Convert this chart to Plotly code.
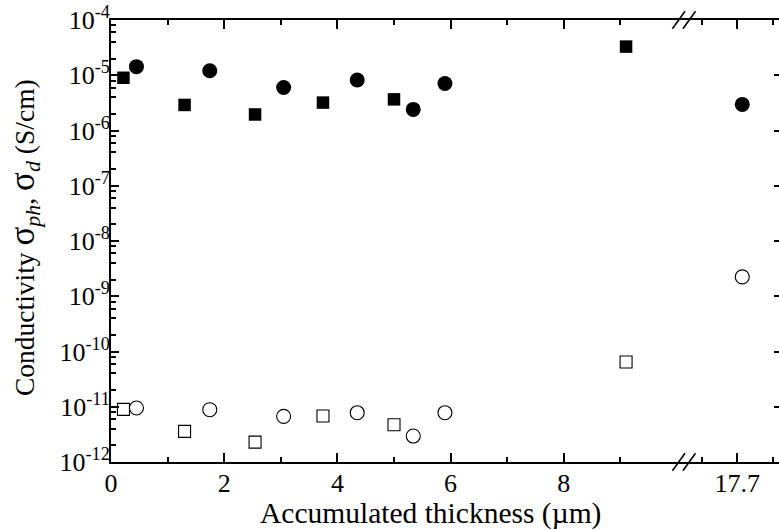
import plotly.graph_objects as go

# ---- data ----
ph_sq_x = [0.22, 1.30, 2.545, 3.745, 5.00, 9.10]
ph_sq_y = [9.0e-6, 2.9e-6, 1.95e-6, 3.2e-6, 3.66e-6, 3.3e-5]

ph_ci_x = [0.45, 1.745, 3.05, 4.35, 5.34, 5.90]
ph_ci_y = [1.43e-5, 1.21e-5, 6.0e-6, 8.2e-6, 2.41e-6, 7.1e-6]
ph_ci_x_far = [17.77]
ph_ci_y_far = [2.97e-6]

d_sq_x = [0.22, 1.30, 2.545, 3.745, 5.00, 9.10]
d_sq_y = [8.97e-12, 3.58e-12, 2.29e-12, 6.8e-12, 4.73e-12, 6.45e-11]

d_ci_x = [0.45, 1.745, 3.05, 4.35, 5.34, 5.90]
d_ci_y = [9.5e-12, 8.85e-12, 6.7e-12, 7.8e-12, 2.95e-12, 7.8e-12]
d_ci_x_far = [17.77]
d_ci_y_far = [2.24e-9]

x_major = [0, 2, 4, 6, 8]
x_minor = [1, 3, 5, 7, 9]
x2_major = [17.7]
x2_labels = ["17.7"]
x2_minor = [17.2, 18.2]
y_exps = [-12, -11, -10, -9, -8, -7, -6, -5, -4]
y_major = [10.0 ** e for e in y_exps]
y_labels = ["10<sup>%d</sup>" % e for e in y_exps]
y_minor = [k * 10.0 ** e for e in range(-12, -4) for k in (2, 4, 6, 8)]

FONT = "'Liberation Serif', 'Times New Roman', Times, 'DejaVu Serif', serif"
W, H = 779, 530
L, R, T, B = 111, 0, 20, 68
PW, PH = W - L - R, H - T - B
split = (683 - L) / PW

fig = go.Figure()

def add(x, y, symbol, size, xa="x", filled=True):
    fig.add_trace(go.Scatter(
        x=x, y=y, mode="markers", xaxis=xa, yaxis="y",
        marker=dict(symbol=symbol, size=size,
                    color="black" if filled else "white",
                    line=dict(color="black", width=0 if filled else 1.1)),
        showlegend=False, hoverinfo="x+y"))

add(ph_sq_x, ph_sq_y, "square", 12.5)
add(ph_ci_x, ph_ci_y, "circle", 15)
add(ph_ci_x_far, ph_ci_y_far, "circle", 15, xa="x2")
add(d_sq_x, d_sq_y, "square", 12, filled=False)
add(d_ci_x, d_ci_y, "circle", 14, filled=False)
add(d_ci_x_far, d_ci_y_far, "circle", 14, xa="x2", filled=False)

axis_common = dict(showline=True, linewidth=2, linecolor="black", showgrid=False,
                   zeroline=False, ticks="inside", tickwidth=1.5, tickcolor="black",
                   automargin=False,
                   tickfont=dict(family=FONT, size=26, color="black"))

fig.update_layout(
    width=W, height=H,
    margin=dict(l=L, r=R, t=T, b=B, autoexpand=False),
    plot_bgcolor="white", paper_bgcolor="white",
    font=dict(family=FONT, size=26, color="black"),
    showlegend=False,
    xaxis=dict(domain=[0, split], range=[0, (683 - L) / 56.6], anchor="y",
               tickmode="array", tickvals=x_major, ticklen=9, mirror="ticks",
               ticklabelstandoff=-3,
               minor=dict(tickmode="array", tickvals=x_minor, ticks="inside", ticklen=5,
                          tickwidth=1.5, tickcolor="black", showgrid=False),
               **axis_common),
    xaxis2=dict(domain=[split, 1], range=[17.7 - (737.3 - 683) / 71, 17.7 + (W - 737.3) / 71],
                anchor="y", tickmode="array", tickvals=x2_major, ticktext=x2_labels,
                ticklen=9, mirror="ticks", ticklabelstandoff=-3,
                minor=dict(tickmode="array", tickvals=x2_minor, ticks="inside", ticklen=5,
                           tickwidth=1.5, tickcolor="black", showgrid=False),
                **axis_common),
    yaxis=dict(type="log", range=[-12, -4], domain=[0, 1], anchor="x",
               tickmode="array", tickvals=y_major, ticktext=y_labels, ticklen=8,
               ticklabelstandoff=-6,
               minor=dict(tickmode="array", tickvals=y_minor, ticks="inside", ticklen=5,
                          tickwidth=1.5, tickcolor="black", showgrid=False),
               **axis_common),
    yaxis2=dict(type="log", range=[-12, -4], overlaying="y", side="right", anchor="x2",
                tickmode="array", tickvals=y_major, ticks="inside", ticklen=5,
                tickwidth=1.5, tickcolor="black", showticklabels=False, automargin=False,
                showline=False, showgrid=False, zeroline=False),
)

# invisible trace to activate yaxis2
fig.add_trace(go.Scatter(x=[17.7], y=[1e-8], xaxis="x2", yaxis="y2", mode="markers",
                         marker=dict(opacity=0), showlegend=False, hoverinfo="skip"))

def px2paper(px, py):
    return (px - L) / PW, (H - B - py) / PH

# axis-break marks
for yc in (20, 462):
    for xc in (678.7, 689.2):
        x0, y0 = px2paper(xc - 6.3, yc + 8.7)
        x1, y1 = px2paper(xc + 6.3, yc - 8.7)
        fig.add_shape(type="line", xref="paper", yref="paper", x0=x0, y0=y0, x1=x1, y1=y1,
                      line=dict(color="black", width=1.6))

xt, yt = px2paper(430, 513)
fig.add_annotation(text="Accumulated thickness (\u00b5m)", xref="paper", yref="paper",
                   x=xt, y=yt, xanchor="center", yanchor="middle", showarrow=False,
                   font=dict(family=FONT, size=29.5, color="black"))
SIG = '<span style="font-size:35px">\u03c3</span>'
SUB = '<sub><span style="font-size:22px"><i>%s</i></span></sub>'
ytitle = "Conductivity " + SIG + (SUB % "ph") + ", " + SIG + (SUB % "d") + " (S/cm)"
xt, yt = px2paper(24, 238)
fig.add_annotation(text=ytitle,
                   xref="paper", yref="paper", x=xt, y=yt, textangle=-90,
                   xanchor="center", yanchor="middle", showarrow=False,
                   font=dict(family=FONT, size=27.5, color="black"))

fig.write_html("out.html", config={"displayModeBar": False},
               post_script="document.body.style.margin='0';document.body.style.overflow='hidden';")
